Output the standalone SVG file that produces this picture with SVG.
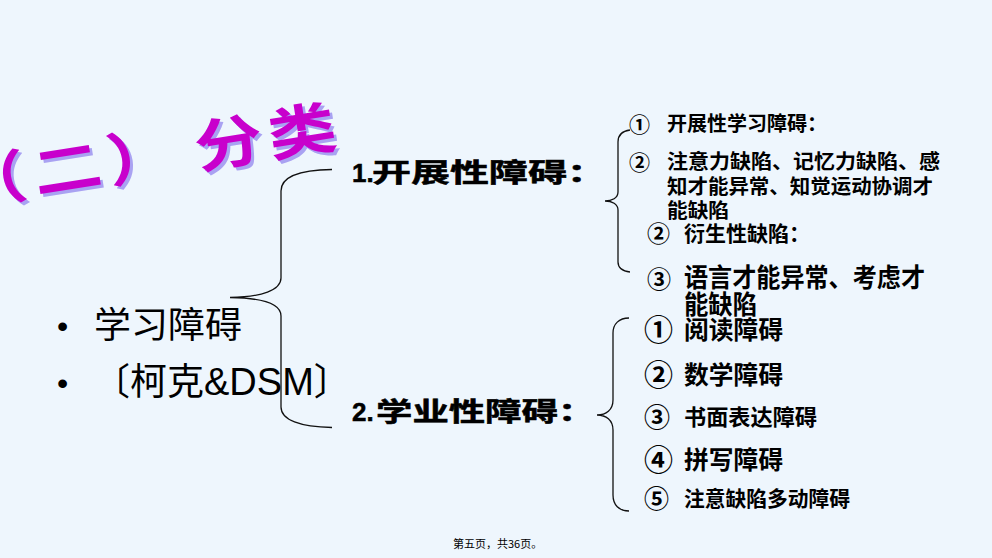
<svg xmlns="http://www.w3.org/2000/svg" width="992" height="558" viewBox="0 0 992 558">
<style>
.brace{fill:none;stroke:#111;stroke-width:1.3}
.cjk{font-family:"Noto Sans CJK SC","Noto Sans",sans-serif;fill:#000}
.bd{font-weight:700}
.hv{stroke:#000;stroke-width:0.5}
.lat{font-family:"Liberation Sans",Arial,sans-serif;fill:#000}
.title{font-family:"Noto Sans CJK SC",sans-serif;font-weight:700;font-size:57px}
</style>
<rect width="992" height="558" fill="#EEF6FD"/>

<g id="title">
<text class="title" fill="#A9A2F2" x="-32 31 93 167 229" y="0" transform="translate(3,203) rotate(-9) scale(1.2,1)">（二）分类</text>
<text class="title" fill="#C800CC" x="-32 31 93 167 229" y="0" transform="translate(0,200) rotate(-9) scale(1.2,1)">（二）分类</text>
</g>

<g id="root">
<text class="lat" x="57" y="337" font-size="32">•</text>
<text class="cjk" x="94" y="338" font-size="36" textLength="148" lengthAdjust="spacingAndGlyphs">学习障碍</text>
<text class="lat" x="57" y="394" font-size="32">•</text>
<text class="cjk" x="93" y="395" font-size="37">〔柯克<tspan class="lat" font-size="38">&amp;DSM</tspan>〕</text>
</g>

<g id="connectors">
<path class="brace" d="M332,169.5 C300,170 281,177 281,191 L281,278 C281,290 262,297 230,297.5 C262,298 281,304 281,316 L281,407 C281,420 300,427 332,427.5"/>
<path class="brace" d="M630,130 C622,131 618,135 618,142 L618,192 C618,198 612,201 605,201 C612,201 618,204 618,210 L618,262 C618,268 622,271 630,272"/>
<path class="brace" d="M629,318 C619,318 613,324 613,333 L613,400 C613,410 606,415 597,415 C606,415 613,420 613,430 L613,495 C613,505 619,511 629,511"/>
</g>

<g id="node-1">
<text class="lat bd hv" x="352" y="182" font-size="26">1.</text>
<text class="cjk bd hv" x="0" y="0" font-size="26" transform="translate(372,182) scale(1.5,1)">开展性障碍：</text>
</g>

<g id="node-2">
<text class="lat bd hv" x="352" y="421" font-size="26">2.</text>
<text class="cjk bd hv" x="0" y="0" font-size="26" transform="translate(376,421) scale(1.4,1)">学业性障碍：</text>
</g>

<g id="node-1-items">
<text class="cjk bd" x="629" y="132" font-size="21">①</text>
<text class="cjk bd" x="667" y="131" font-size="20" textLength="160" lengthAdjust="spacingAndGlyphs">开展性学习障碍：</text>
<text class="cjk bd" x="629" y="170" font-size="21">②</text>
<text class="cjk bd" x="667" y="169" font-size="20" textLength="273" lengthAdjust="spacingAndGlyphs">注意力缺陷、记忆力缺陷、感</text>
<text class="cjk bd" x="667" y="194" font-size="20" textLength="266" lengthAdjust="spacingAndGlyphs">知才能异常、知觉运动协调才</text>
<text class="cjk bd" x="667" y="218" font-size="20" textLength="62" lengthAdjust="spacingAndGlyphs">能缺陷</text>
<text class="cjk bd" x="647" y="242" font-size="23">②</text>
<text class="cjk bd" x="684" y="241" font-size="21" textLength="126" lengthAdjust="spacingAndGlyphs">衍生性缺陷：</text>
<text class="cjk bd" x="647" y="288" font-size="24">③</text>
<text class="cjk bd" x="684" y="287" font-size="26" textLength="241" lengthAdjust="spacingAndGlyphs">语言才能异常、考虑才</text>
<text class="cjk bd" x="684" y="314" font-size="26" textLength="73" lengthAdjust="spacingAndGlyphs">能缺陷</text>
</g>

<g id="node-2-items">
<text class="cjk bd" x="644" y="341" font-size="29">①</text>
<text class="cjk bd" x="684" y="339" font-size="25" textLength="99" lengthAdjust="spacingAndGlyphs">阅读障碍</text>
<text class="cjk bd" x="644" y="386" font-size="29">②</text>
<text class="cjk bd" x="684" y="384" font-size="25" textLength="99" lengthAdjust="spacingAndGlyphs">数学障碍</text>
<text class="cjk bd" x="644" y="427" font-size="26">③</text>
<text class="cjk bd" x="684" y="425" font-size="22" textLength="133" lengthAdjust="spacingAndGlyphs">书面表达障碍</text>
<text class="cjk bd" x="644" y="471" font-size="29">④</text>
<text class="cjk bd" x="684" y="469" font-size="25" textLength="99" lengthAdjust="spacingAndGlyphs">拼写障碍</text>
<text class="cjk bd" x="644" y="508" font-size="25">⑤</text>
<text class="cjk bd" x="684" y="506" font-size="21" textLength="166" lengthAdjust="spacingAndGlyphs">注意缺陷多动障碍</text>
</g>

<g id="footer">
<text class="cjk" x="453" y="548" font-size="11" fill="#333">第五页，共36页。</text>
</g>
</svg>
